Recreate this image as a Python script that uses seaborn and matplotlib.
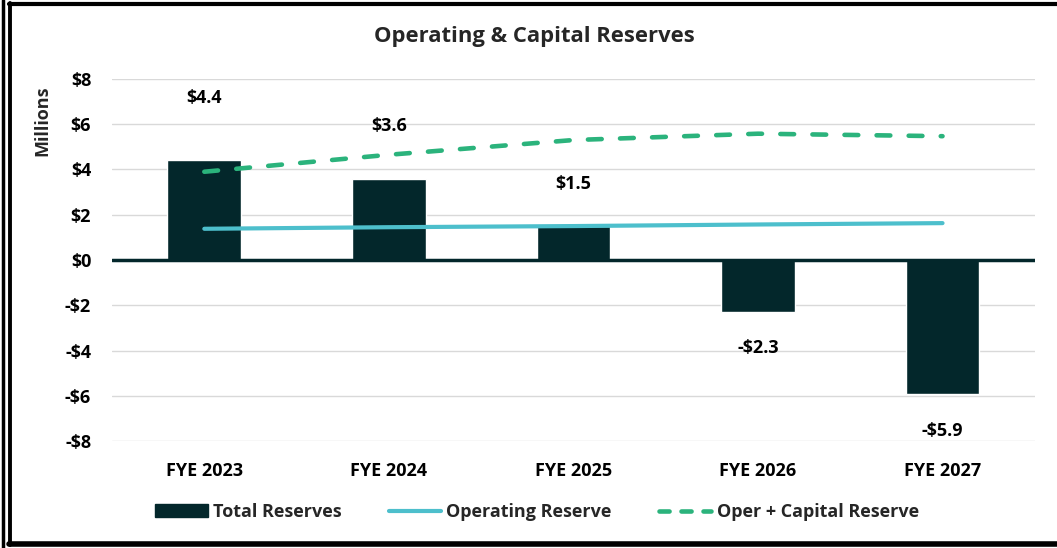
import numpy as np
import pandas as pd
import matplotlib
matplotlib.use("Agg")
import matplotlib.pyplot as plt
import seaborn as sns
from matplotlib.patches import Patch
from matplotlib.lines import Line2D

# data
categories = ["FYE 2023", "FYE 2024", "FYE 2025", "FYE 2026", "FYE 2027"]
total_reserves = [4.4, 3.6, 1.5, -2.3, -5.9]
operating_reserve = [1.38, 1.45, 1.5, 1.57, 1.63]
oper_capital_reserve = [3.9, 4.65, 5.3, 5.58, 5.47]
bar_labels = ["$4.4", "$3.6", "$1.5", "-$2.3", "-$5.9"]
y_ticks = [-8, -6, -4, -2, 0, 2, 4, 6, 8]

# label offsets (points) as placed in the original
label_offsets = [45, 38, 30, -26, -27]

BAR = "#03272b"
OPER = "#4dbfcc"
CAP = "#2bb37c"

df = pd.DataFrame({"cat": categories, "total": total_reserves,
                   "oper": operating_reserve, "cap": oper_capital_reserve})

sns.set_style("white")
plt.rcParams["font.family"] = ["Open Sans", "DejaVu Sans"]
plt.rcParams["font.weight"] = "bold"

fig = plt.figure(figsize=(10.57, 5.48), dpi=100)
ax = fig.add_axes([0.106, 0.195, 0.873, 0.661])

ax.yaxis.grid(True, color="#d9d9d9", linewidth=1)
ax.set_axisbelow(True)

sns.barplot(data=df, x="cat", y="total", color=BAR, width=0.4,
            saturation=1, ax=ax, zorder=2)

xs = np.arange(len(categories))
ax.plot(xs, df["oper"], color=OPER, linewidth=3, zorder=3,
        solid_capstyle="round")
ax.plot(xs, df["cap"], color=CAP, linewidth=3.3, zorder=3,
        dashes=(3, 4), dash_capstyle="round")

ax.axhline(0, color=BAR, linewidth=2.5, zorder=4)

for i, (v, lab) in enumerate(zip(total_reserves, bar_labels)):
    ax.annotate(lab, (i, v), xytext=(0, label_offsets[i]),
                textcoords="offset points", ha="center", va="center",
                fontsize=13, fontweight="bold", color="black")

ax.set_xlim(-0.5, len(categories) - 0.5)
ax.set_ylim(-8, 8)
ax.set_yticks(y_ticks)
ax.set_yticklabels([f"-${abs(t)}" if t < 0 else f"${t}" for t in y_ticks])
ax.tick_params(axis="both", length=0, labelsize=13, colors="black")
ax.tick_params(axis="x", pad=15)
ax.tick_params(axis="y", pad=15)
for lbl in ax.get_xticklabels() + ax.get_yticklabels():
    lbl.set_fontweight("bold")
ax.set_xlabel("")
ax.set_ylabel("Millions", fontsize=13, fontweight="bold")
ax.yaxis.set_label_coords(-0.066, 0.885)
for s in ax.spines.values():
    s.set_visible(False)

fig.text(0.506, 0.934, "Operating & Capital Reserves", ha="center",
         va="center", fontsize=15.8, fontweight="bold")

handles = [Patch(facecolor=BAR, edgecolor=BAR),
           Line2D([0], [0], color=OPER, linewidth=3),
           Line2D([0], [0], color=CAP, linewidth=3.3, dashes=(2.2, 2.6),
                  dash_capstyle="round")]
fig.legend(handles, ["Total Reserves", "Operating Reserve",
                     "Oper + Capital Reserve"],
           loc="center", bbox_to_anchor=(0.508, 0.066), ncol=3,
           frameon=False, fontsize=13, handlelength=2.9, handleheight=0.7,
           columnspacing=2.6, handletextpad=0.3)

# frame around the chart (double line on the left, none on the right)
W, H = 1057.0, 548.0
frame = [((9, 1057), (4, 4), 3.0), ((9, 1057), (544, 544), 4.0),
         ((10, 10), (3, 545), 2.8), ((3, 3), (0, 548), 2.5)]
for (x0, x1), (y0, y1), lw in frame:
    fig.add_artist(Line2D([x0 / W, x1 / W], [1 - y0 / H, 1 - y1 / H],
                          transform=fig.transFigure, color="black", linewidth=lw))

fig.savefig("out.png", dpi=100)
